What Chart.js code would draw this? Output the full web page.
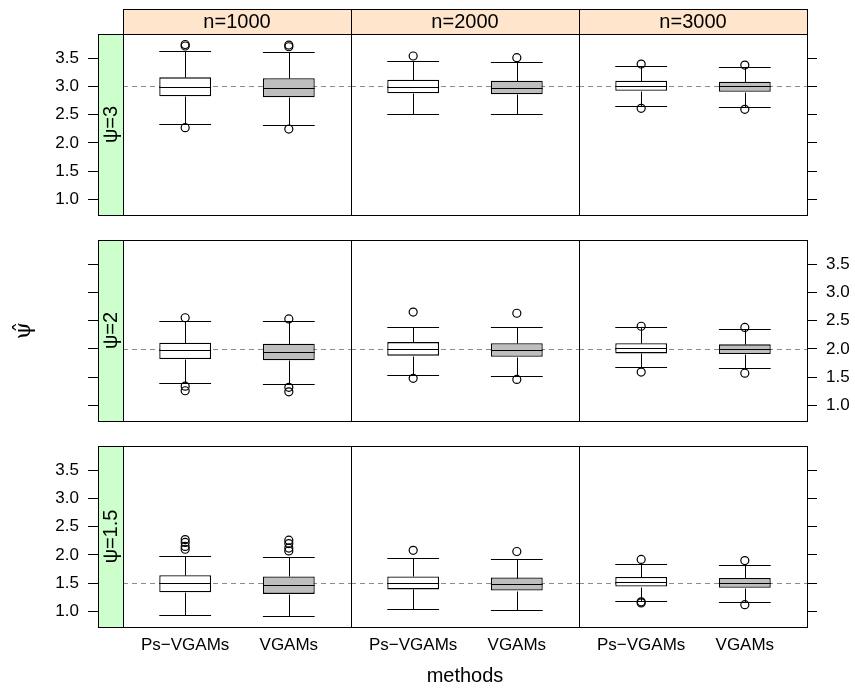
<!DOCTYPE html>
<html>
<head>
<meta charset="utf-8">
<script src="https://cdn.jsdelivr.net/npm/chart.js@4.4.1/dist/chart.umd.min.js"></script>
<style>
  html, body { margin: 0; padding: 0; background: #fff; }
  #wrap { position: relative; width: 855px; height: 688px; overflow: hidden; }
  #wrap canvas { position: absolute; }
</style>
</head>
<body>
<div id="wrap"></div>
<script>
const methods = ['Ps\u2212VGAMs', 'VGAMs'];
const sampleSizes = ['n=1000', 'n=2000', 'n=3000'];
const psiLabels = ['\u03c8=3', '\u03c8=2', '\u03c8=1.5'];
const psiTrue = [3, 2, 1.5];
const yTicks = [1.0, 1.5, 2.0, 2.5, 3.0, 3.5];

// [lower whisker, q1, median, q3, upper whisker] -> per n, per method
const boxesPsi3 = [
  [[2.334, 2.823, 2.993, 3.159, 3.624], [2.316, 2.806, 2.970, 3.142, 3.607]],
  [[2.516, 2.877, 2.988, 3.117, 3.443], [2.506, 2.859, 2.970, 3.099, 3.430]],
  [[2.657, 2.923, 3.011, 3.099, 3.351], [2.640, 2.905, 3.000, 3.082, 3.340]]
];
const outliersPsi3 = [
  [[3.739, 3.713, 2.268], [3.730, 3.700, 2.245]],
  [[3.536], [3.506]],
  [[3.393, 2.611], [3.375, 2.594]]
];

const boxesPsi2 = [
  [[1.40, 1.82, 1.98, 2.11, 2.50], [1.38, 1.80, 1.94, 2.09, 2.49]],
  [[1.53, 1.88, 2.00, 2.12, 2.39], [1.52, 1.86, 1.98, 2.10, 2.38]],
  [[1.68, 1.92, 2.01, 2.10, 2.38], [1.66, 1.91, 1.99, 2.08, 2.36]]
];
const outliersPsi2 = [
  [[2.55, 1.34, 1.26], [2.53, 1.32, 1.24]],
  [[2.65, 1.48], [2.63, 1.46]],
  [[2.40, 1.59], [2.38, 1.57]]
];

const boxesPsi15 = [
  [[0.93, 1.34, 1.50, 1.64, 1.98], [0.92, 1.31, 1.47, 1.62, 1.96]],
  [[1.05, 1.39, 1.505, 1.62, 1.94], [1.03, 1.37, 1.49, 1.60, 1.92]],
  [[1.18, 1.44, 1.52, 1.61, 1.84], [1.16, 1.42, 1.50, 1.59, 1.82]]
];
const outliersPsi15 = [
  [[2.27, 2.22, 2.15, 2.10], [2.26, 2.20, 2.12, 2.07]],
  [[2.08], [2.06]],
  [[1.92, 1.17, 1.15], [1.90, 1.12]]
];

const boxStats = [boxesPsi3, boxesPsi2, boxesPsi15];
const outlierStats = [outliersPsi3, outliersPsi2, outliersPsi15];

// layout (pixels)
const colX = [123, 351, 579];
const rowY = [34, 240, 446];
const panelW = 228, panelH = 181, stripH = 25, stripW = 25;
const yMin = 0.725, yMax = 3.925;
const xLo = 0.4, xHi = 2.6;
const boxFill = ['#ffffff', '#bebebe'];

Chart.defaults.font.family = '"Liberation Sans", Arial, sans-serif';
Chart.defaults.color = '#000';

function panelPlugin(r, c) {
  return {
    id: 'panel',
    beforeDatasetsDraw(chart) {
      const { ctx, chartArea, scales: { x, y } } = chart;
      const left = x.getPixelForValue(xLo);
      const yy = Math.round(y.getPixelForValue(psiTrue[r])) + 0.5;
      ctx.save();
      ctx.strokeStyle = '#8c8c8c';
      ctx.lineWidth = 1;
      ctx.setLineDash([5, 4]);
      ctx.beginPath();
      ctx.moveTo(left, yy);
      ctx.lineTo(chartArea.right, yy);
      ctx.stroke();
      ctx.restore();
    },
    afterDatasetsDraw(chart) {
      const { ctx, scales: { y } } = chart;
      const meta = chart.getDatasetMeta(0);
      ctx.save();
      ctx.strokeStyle = '#000';
      ctx.lineWidth = 1;
      meta.data.forEach((bar, i) => {
        const [lo, q1, med, q3, hi] = boxStats[r][c][i];
        const half = bar.width / 2;
        const cx = Math.round(bar.x) + 0.5;
        const py = v => Math.round(y.getPixelForValue(v)) + 0.5;
        ctx.beginPath();
        // whiskers
        ctx.moveTo(cx, py(q3)); ctx.lineTo(cx, py(hi));
        ctx.moveTo(cx, py(q1)); ctx.lineTo(cx, py(lo));
        // caps
        ctx.moveTo(bar.x - half, py(hi)); ctx.lineTo(bar.x + half, py(hi));
        ctx.moveTo(bar.x - half, py(lo)); ctx.lineTo(bar.x + half, py(lo));
        // median
        ctx.moveTo(bar.x - half, py(med)); ctx.lineTo(bar.x + half, py(med));
        ctx.stroke();
      });
      ctx.restore();
    },
    afterDraw(chart) {
      const { ctx, chartArea: a, scales: { x } } = chart;
      const left = Math.round(x.getPixelForValue(xLo));
      ctx.save();
      ctx.lineWidth = 1;
      ctx.strokeStyle = '#000';
      ctx.fillStyle = '#000';
      ctx.textAlign = 'center';
      ctx.textBaseline = 'middle';
      ctx.font = '20px "Liberation Sans", Arial, sans-serif';
      if (r === 0) {
        ctx.fillStyle = '#ffe5cc';
        ctx.fillRect(left, a.top - stripH, a.right - left, stripH);
        ctx.strokeRect(left + 0.5, a.top - stripH + 0.5, a.right - left, stripH);
        ctx.fillStyle = '#000';
        ctx.fillText(sampleSizes[c], (left + a.right) / 2, a.top - stripH / 2 + 1);
      }
      if (c === 0) {
        ctx.fillStyle = '#ccffcc';
        ctx.fillRect(a.left, a.top, left - a.left, a.bottom - a.top);
        ctx.strokeRect(a.left + 0.5, a.top + 0.5, left - a.left, a.bottom - a.top);
        ctx.fillStyle = '#000';
        ctx.save();
        ctx.translate((a.left + left) / 2 + 1, (a.top + a.bottom) / 2);
        ctx.rotate(-Math.PI / 2);
        ctx.fillText(psiLabels[r], 0, 0);
        ctx.restore();
      }
      ctx.strokeRect(left + 0.5, a.top + 0.5, a.right - left, a.bottom - a.top);
      ctx.restore();
    }
  };
}

const wrap = document.getElementById('wrap');

for (let r = 0; r < 3; r++) {
  for (let c = 0; c < 3; c++) {
    const left = c === 0 ? 0 : colX[c];
    const right = c === 2 ? 855 : colX[c] + panelW + 1;
    const top = r === 0 ? rowY[0] - stripH : rowY[r];
    const bottom = r === 2 ? 688 : rowY[r] + panelH + 1;

    const canvas = document.createElement('canvas');
    canvas.width = right - left;
    canvas.height = bottom - top;
    canvas.style.left = left + 'px';
    canvas.style.top = top + 'px';
    wrap.appendChild(canvas);

    const showX = r === 2;
    const showY = c !== 1;
    const showYLabels = (c === 0 && r !== 1) || (c === 2 && r === 1);
    const xMin = c === 0 ? xLo - stripW * (xHi - xLo) / panelW : xLo;

    const boxes = boxStats[r][c];
    const outs = [];
    outlierStats[r][c].forEach((list, i) => list.forEach(v => outs.push({ x: i + 1, y: v })));

    new Chart(canvas, {
      type: 'bar',
      data: {
        datasets: [
          {
            label: 'box',
            data: boxes.map((b, i) => ({ x: i + 1, y: [b[1], b[3]] })),
            backgroundColor: boxFill,
            borderColor: '#000',
            borderWidth: 1.3,
            borderSkipped: false,
            barPercentage: 0.5,
            categoryPercentage: 1
          },
          {
            type: 'scatter',
            label: 'outliers',
            data: outs,
            pointRadius: 4,
            pointBorderWidth: 1.2,
            pointBorderColor: '#000',
            pointBackgroundColor: 'rgba(0,0,0,0)'
          }
        ]
      },
      options: {
        responsive: false,
        animation: false,
        events: [],
        layout: {
          autoPadding: false,
          padding: { top: r === 0 ? stripH : 0, right: c < 2 ? 1 : 0, bottom: r < 2 ? 1 : 0, left: 0 }
        },
        plugins: { legend: { display: false }, tooltip: { enabled: false } },
        scales: {
          x: {
            type: 'linear',
            offset: false,
            min: xMin,
            max: xHi,
            display: showX,
            afterBuildTicks: s => { s.ticks = [1, 2].map(v => ({ value: v })); },
            afterFit: s => {
              if (showX) s.height = 61;
              s.paddingLeft = 0; s.paddingRight = 0;
            },
            grid: { display: false, drawTicks: false, offset: false },
            border: { display: false },
            ticks: {
              padding: 8,
              autoSkip: false,
              maxRotation: 0,
              font: { size: 17 },
              callback: v => methods[v - 1]
            },
            title: {
              display: r === 2 && c === 1,
              text: 'methods',
              font: { size: 20 },
              padding: 0
            }
          },
          y: {
            min: yMin,
            max: yMax,
            display: showY,
            position: c === 2 ? 'right' : 'left',
            afterBuildTicks: s => { s.ticks = yTicks.map(v => ({ value: v })); },
            afterFit: s => {
              if (showY) s.width = c === 0 ? 98 : 48;
              s.paddingTop = 0; s.paddingBottom = 0;
            },
            grid: { drawOnChartArea: false, drawTicks: true, tickLength: 10, color: '#000', lineWidth: 1 },
            border: { display: false },
            ticks: {
              display: showYLabels,
              padding: 9,
              autoSkip: false,
              font: { size: 17 },
              callback: v => v.toFixed(1)
            },
            title: {
              display: r === 1 && c === 0,
              text: '\u03c8\u0302',
              font: { size: 22, family: '"DejaVu Serif", serif' },
              padding: { top: 11, bottom: 0 }
            }
          }
        }
      },
      plugins: [panelPlugin(r, c)]
    });
  }
}
</script>
</body>
</html>
